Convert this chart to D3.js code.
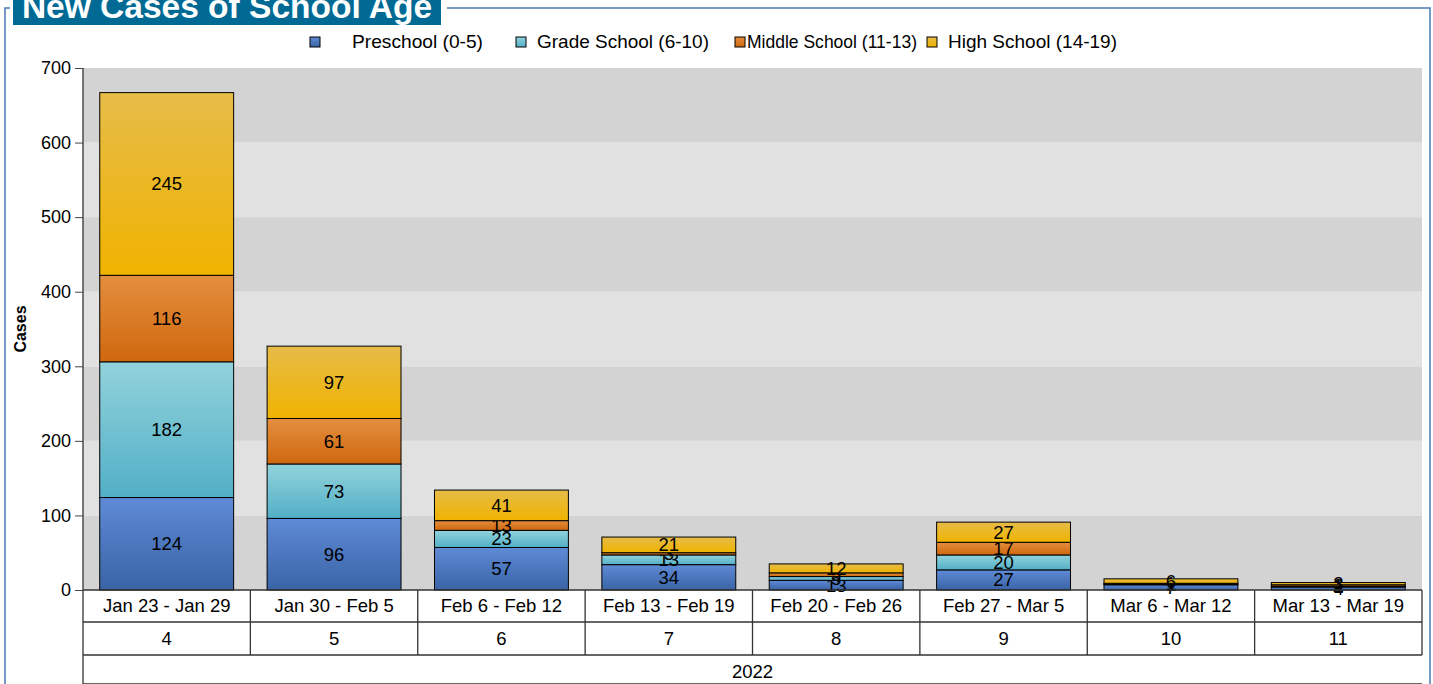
<!DOCTYPE html>
<html>
<head>
<meta charset="utf-8">
<script src="https://cdn.jsdelivr.net/npm/d3@7"></script>
<style>
  body { margin: 0; background: #fff; }
  text { font-family: "Liberation Sans", Arial, sans-serif; }
</style>
</head>
<body>
<div id="chart"></div>
<script>
    const weeks = ["Jan 23 - Jan 29", "Jan 30 - Feb 5", "Feb 6 - Feb 12", "Feb 13 - Feb 19", "Feb 20 - Feb 26", "Feb 27 - Mar 5", "Mar 6 - Mar 12", "Mar 13 - Mar 19"]
    const weekNums = ["4", "5", "6", "7", "8", "9", "10", "11"]
    const year = "2022"
    const series = ["Preschool (0-5)", "Grade School (6-10)", "Middle School (11-13)", "High School (14-19)"]
    const preschool = [124, 96, 57, 34, 13, 27, 7, 4]
    const gradeSchool = [182, 73, 23, 13, 5, 20, 1, 1]
    const middleSchool = [116, 61, 13, 3, 5, 17, 1, 2]
    const highSchool = [245, 97, 41, 21, 12, 27, 6, 3]
    const yTicks = [0, 100, 200, 300, 400, 500, 600, 700]

    const w = 1433;
    const h = 684;
    // top / bottom colour of each series gradient
    const colors = [["#5f8ad6", "#3a64a6"], ["#92d3dc", "#52afc6"], ["#e48e3e", "#cf680e"], ["#e6bc48", "#f0b300"]];

    const rows = weeks.map((wk, i) => ({
        week: wk, s0: preschool[i], s1: gradeSchool[i], s2: middleSchool[i], s3: highSchool[i]
    }))
    const stacked = d3.stack().keys(["s0", "s1", "s2", "s3"])(rows)

    const pLeft = 83, pRight = 1422, pTop = 68, pBase = 590

    const svg = d3.select("#chart")
        .append("svg")
        .attr("width", w)
        .attr("height", h)

    const defs = svg.append("defs")
    colors.forEach((c, i) => {
        const g = defs.append("linearGradient").attr("id", "g" + i)
            .attr("x1", 0).attr("y1", 0).attr("x2", 0).attr("y2", 1)
        g.append("stop").attr("offset", "0%").attr("stop-color", c[0])
        g.append("stop").attr("offset", "100%").attr("stop-color", c[1])
    })

    // frame + title
    svg.append("rect")
        .attr("x", 5).attr("y", 8).attr("width", 1425).attr("height", 700)
        .attr("fill", "none").attr("stroke", "#4a7ab4").attr("stroke-width", 1.5)
    svg.append("rect")
        .attr("x", 10).attr("y", 0).attr("width", 437).attr("height", 27)
        .attr("fill", "#fff")
    svg.append("rect")
        .attr("x", 13).attr("y", 0).attr("width", 428).attr("height", 25)
        .attr("fill", "#006a94")
    svg.append("text")
        .attr("x", 227).attr("y", 18)
        .attr("text-anchor", "middle")
        .attr("fill", "#fff")
        .attr("font-weight", "bold")
        .attr("font-size", 33.5)
        .text("New Cases of School Age")

    const yScale = d3.scaleLinear()
        .domain([0, 700])
        .range([pBase, pTop])

    const xScale = d3.scaleBand()
        .domain(weeks)
        .range([pLeft, pRight])
        .paddingInner(0.2)
        .paddingOuter(0.1)

    const cell = d3.scaleBand()
        .domain(weeks)
        .range([pLeft, pRight])

    // background bands
    svg.append("g")
        .selectAll("rect")
        .data(yTicks.slice(0, -1))
        .enter()
        .append("rect")
        .attr("x", pLeft)
        .attr("y", d => yScale(d + 100))
        .attr("width", pRight - pLeft)
        .attr("height", d => yScale(d) - yScale(d + 100))
        .attr("fill", d => (d / 100) % 2 == 0 ? "#d3d3d3" : "#e1e1e1")

    // bars
    const layers = svg.append("g")
        .selectAll("g")
        .data(stacked)
        .enter()
        .append("g")
        .attr("fill", (d, i) => "url(#g" + i + ")")

    layers.selectAll("rect")
        .data(d => d)
        .enter()
        .append("rect")
        .attr("x", d => xScale(d.data.week))
        .attr("y", d => yScale(d[1]))
        .attr("width", xScale.bandwidth())
        .attr("height", d => yScale(d[0]) - yScale(d[1]))
        .attr("stroke", "#000")
        .attr("stroke-width", 1)

    layers.selectAll("text")
        .data(d => d)
        .enter()
        .append("text")
        .attr("x", d => xScale(d.data.week) + xScale.bandwidth() / 2)
        .attr("y", d => yScale((d[0] + d[1]) / 2) + 6.5)
        .attr("text-anchor", "middle")
        .attr("font-size", 18.5)
        .attr("fill", "#000")
        .text(d => d[1] - d[0])

    // y axis
    const yAxis = svg.append("g")
        .attr("transform", `translate(${pLeft},0)`)
        .call(d3.axisLeft(yScale).tickValues(yTicks).tickSize(8).tickPadding(4))
    yAxis.select(".domain").remove()
    yAxis.selectAll("line").attr("stroke", "#444")
    yAxis.selectAll("text").attr("font-size", 18).attr("fill", "#000")
        .style("font-family", "Liberation Sans, Arial, sans-serif")
    svg.append("line")
        .attr("x1", pLeft).attr("x2", pLeft).attr("y1", pTop).attr("y2", h)
        .attr("stroke", "#333").attr("stroke-width", 1.3)

    svg.append("text")
        .attr("transform", "translate(26,329) rotate(-90)")
        .attr("text-anchor", "middle")
        .attr("font-weight", "bold")
        .attr("font-size", 16)
        .text("Cases")

    // category table
    const rowY = [pBase, 622, 655]
    svg.append("g")
        .selectAll("line")
        .data(rowY.concat([h]))
        .enter()
        .append("line")
        .attr("x1", pLeft).attr("x2", pRight)
        .attr("y1", d => d).attr("y2", d => d)
        .attr("stroke", "#333").attr("stroke-width", 1.3)

    svg.append("g")
        .selectAll("line")
        .data(weeks)
        .enter()
        .append("line")
        .attr("x1", d => cell(d) + cell.bandwidth())
        .attr("x2", d => cell(d) + cell.bandwidth())
        .attr("y1", pBase).attr("y2", 655)
        .attr("stroke", "#333").attr("stroke-width", 1.3)

    svg.append("g")
        .selectAll("text")
        .data(weeks)
        .enter()
        .append("text")
        .attr("x", d => cell(d) + cell.bandwidth() / 2)
        .attr("y", 612)
        .attr("text-anchor", "middle")
        .attr("font-size", 18.5)
        .text(d => d)

    svg.append("g")
        .selectAll("text")
        .data(weekNums)
        .enter()
        .append("text")
        .attr("x", (d, i) => cell(weeks[i]) + cell.bandwidth() / 2)
        .attr("y", 645)
        .attr("text-anchor", "middle")
        .attr("font-size", 18.5)
        .text(d => d)

    svg.append("text")
        .attr("x", (pLeft + pRight) / 2)
        .attr("y", 678)
        .attr("text-anchor", "middle")
        .attr("font-size", 18.5)
        .text(year)

    // legend (text is drawn slightly condensed, as in the source)
    const legendX = [310, 516, 735, 927]
    const legendTx = [352, 537, 747, 948]
    const legendLen = [131, 172, 170, 169]
    const legend = svg.append("g")
        .selectAll("g")
        .data(series)
        .enter()
        .append("g")
    legend.append("rect")
        .attr("x", (d, i) => legendX[i])
        .attr("y", 37)
        .attr("width", 10).attr("height", 10)
        .attr("fill", (d, i) => "url(#g" + i + ")")
        .attr("stroke", "#000")
    legend.append("text")
        .attr("x", (d, i) => legendTx[i])
        .attr("y", 48)
        .attr("font-size", 19)
        .attr("textLength", (d, i) => legendLen[i])
        .attr("lengthAdjust", "spacingAndGlyphs")
        .text(d => d)
</script>
</body>
</html>
